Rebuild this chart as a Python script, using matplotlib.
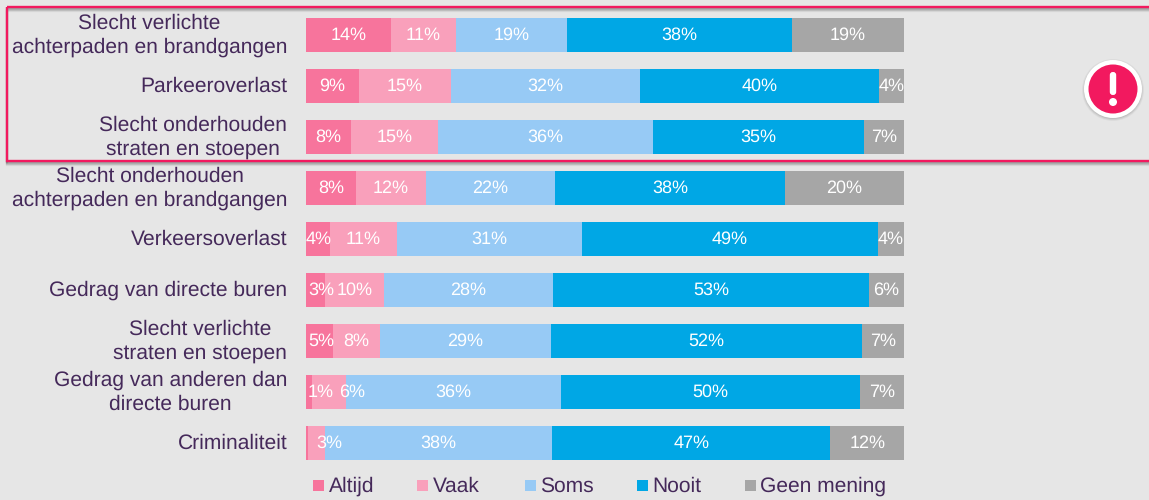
import matplotlib
matplotlib.use("Agg")
import matplotlib.pyplot as plt
from matplotlib.patches import Circle, FancyBboxPatch, Rectangle

categories = [
    "Slecht verlichte\nachterpaden en brandgangen",
    "Parkeeroverlast",
    "Slecht onderhouden\nstraten en stoepen",
    "Slecht onderhouden\nachterpaden en brandgangen",
    "Verkeersoverlast",
    "Gedrag van directe buren",
    "Slecht verlichte\nstraten en stoepen",
    "Gedrag van anderen dan\ndirecte buren",
    "Criminaliteit",
]
series_names = ["Altijd", "Vaak", "Soms", "Nooit", "Geen mening"]
altijd = [14.2, 8.8, 7.5, 8.3, 4.0, 3.2, 4.5, 1.0, 0.4]
vaak = [10.9, 15.4, 14.5, 11.8, 11.2, 9.8, 7.8, 5.7, 2.8]
soms = [18.6, 31.7, 36.0, 21.5, 31.0, 28.3, 28.6, 35.9, 37.9]
nooit = [37.5, 39.9, 35.3, 38.5, 49.4, 52.8, 52.1, 50.1, 46.6]
geen = [18.8, 4.2, 6.7, 19.9, 4.4, 5.9, 7.0, 7.3, 12.3]
altijd_labels = ["14%", "9%", "8%", "8%", "4%", "3%", "5%", "1%", ""]
vaak_labels = ["11%", "15%", "15%", "12%", "11%", "10%", "8%", "6%", "3%"]
soms_labels = ["19%", "32%", "36%", "22%", "31%", "28%", "29%", "36%", "38%"]
nooit_labels = ["38%", "40%", "35%", "38%", "49%", "53%", "52%", "50%", "47%"]
geen_labels = ["19%", "4%", "7%", "20%", "4%", "6%", "7%", "7%", "12%"]
totals = ["25%", "24%", "22%", "20%", "15%", "13%", "12%", "7%", "3%"]

W, H = 1149, 500
BG = "#E6E6E6"
TXT = "#45295A"
RED = "#F2195F"
colors = ["#F7749C", "#F9A0BB", "#97CAF5", "#00A7E5", "#A6A6A6"]
plt.rcParams["font.family"] = ["Liberation Sans", "DejaVu Sans"]
plt.rcParams["text.hinting"] = "no_hinting"
plt.rcParams["text.hinting_factor"] = 1

fig = plt.figure(figsize=(W / 100, H / 100), dpi=100, facecolor=BG)

# overlay in pixel coordinates for the callout frame and icon
ov = fig.add_axes([0, 0, 1, 1], zorder=3)
ov.set_xlim(0, W)
ov.set_ylim(H, 0)
ov.axis("off")
for k, a in [(4, 0.06), (3, 0.10), (2, 0.14), (1, 0.18)]:
    ov.add_patch(Rectangle((7, 6.5 + k), 1160, 154, fill=False, ec="black", lw=1.6, alpha=a))
ov.add_patch(Rectangle((7, 6.5), 1160, 154, fill=False, ec=RED, lw=1.7))
for r, a in [(31, 0.04), (30, 0.06), (29, 0.08)]:
    ov.add_patch(Circle((1113, 90), r, fc="black", ec="none", alpha=a))
ov.add_patch(Circle((1113, 89), 29, fc="white", ec="none"))
ov.add_patch(Circle((1113, 89), 24.5, fc=RED, ec="none"))
ov.add_patch(FancyBboxPatch((1109.8, 72), 6.4, 23, boxstyle="round,pad=0,rounding_size=3", fc="white", ec="none"))
ov.add_patch(Circle((1113, 102), 4, fc="white", ec="none"))

x0, x1 = 306, 904
yc0, step = 34.6, 51.0
ax = fig.add_axes([x0 / W, 1 - (yc0 + 8.5 * step) / H, (x1 - x0) / W, 9 * step / H], zorder=2)
ax.patch.set_alpha(0)
ax.set_xlim(0, 100)
ax.set_ylim(8.5, -0.5)
ax.axis("off")

ypos = list(range(len(categories)))
data = [altijd, vaak, soms, nooit, geen]
labels = [altijd_labels, vaak_labels, soms_labels, nooit_labels, geen_labels]
# label nudges (pixels) where the source chart moved a label out of a narrow segment
nudges = {(0, 4): 1, (0, 5): 6, (0, 6): 2, (0, 7): 12, (1, 7): 23, (1, 8): 13}
total_nudges = {7: -2.5, 8: -1}

left = [0.0] * len(categories)
for s, (vals, labs) in enumerate(zip(data, labels)):
    ax.barh(ypos, vals, left=left, height=0.667, color=colors[s], lw=0)
    for i, (v, lab) in enumerate(zip(vals, labs)):
        if lab:
            ax.annotate(lab, (left[i] + v / 2, i), xytext=(nudges.get((s, i), 0) * 0.72, -0.3),
                        textcoords="offset points", ha="center", va="center",
                        color="white", fontsize=12.8, clip_on=False)
    left = [l + v for l, v in zip(left, vals)]

for i, (cat, tot) in enumerate(zip(categories, totals)):
    ax.annotate(cat, (0, i), xytext=(-13.5, -0.4), textcoords="offset points", ha="right", va="center",
                multialignment="center", color=TXT, fontsize=15.1, linespacing=1.27, clip_on=False)
    ax.annotate(tot, (117.2, i), ha="right", va="center", color=TXT, fontsize=15.2, clip_on=False,
                xytext=(total_nudges.get(i, 0) * 0.72, -0.4), textcoords="offset points")

# legend in pixel positions
leg_x = [313, 417, 525, 637, 745]
for name, c, lx in zip(series_names, colors, leg_x):
    ov.add_patch(Rectangle((lx, 480), 11, 11, fc=c, ec="none"))
    ov.text(lx + 15.5, 492, name, color=TXT, fontsize=15.4, ha="left", va="baseline")

fig.savefig("out.png", dpi=100, facecolor=BG)
